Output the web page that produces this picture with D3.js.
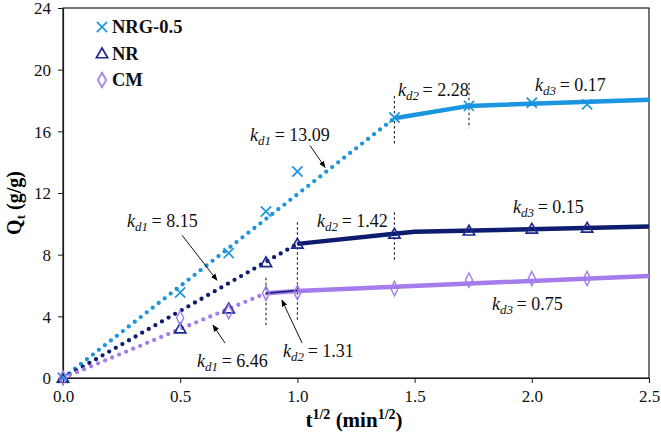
<!DOCTYPE html>
<html>
<head>
<meta charset="utf-8">
<script src="https://cdn.jsdelivr.net/npm/d3@7"></script>
<style>
  body { margin: 0; background: #fff; }
</style>
</head>
<body>
<div id="chart"></div>
<script>
const width = 661;
const height = 439;
const margin = { top: 8, right: 12, bottom: 61, left: 63 };
const serif = "Liberation Serif";

// square root of time (min^1/2)
const tSqrt = [0, 0.5, 0.707, 0.866, 1.0, 1.414, 1.732, 2.0, 2.236];
// measured uptake Qt (g/g)
const nrgValues = [0, 5.55, 8.1, 10.8, 13.4, 16.9, 17.65, 17.85, 17.75];
const nrValues = [0, 3.2, 4.5, 7.5, 8.7, 9.35, 9.55, 9.67, 9.74];
const cmValues = [0, 3.9, 4.3, 5.5, 5.55, 5.8, 6.35, 6.45, 6.45];

// piecewise fits: stage 1 (dotted), later stages (solid)
const nrgFit1 = [[0, 0], [1.414, 16.85]];
const nrgFit2 = [[1.414, 16.85], [1.732, 17.65], [2.5, 18.05]];
const nrFit1 = [[0, 0], [1.0, 8.7]];
const nrFit2 = [[1.0, 8.7], [1.414, 9.35], [1.5, 9.48], [2.5, 9.82]];
const cmFit1 = [[0, 0], [0.866, 5.5]];
const cmFit2 = [[0.866, 5.5], [1.0, 5.65], [2.5, 6.62]];
const cmFitThin = [[0.866, 5.5], [1.0, 5.68]];

// stage boundaries (vertical dashes)
const breakX = [1.414, 1.732, 1.0, 1.414, 0.866];
const breakTop = [18.3, 19.15, 10.1, 10.75, 6.5];
const breakBottom = [15.2, 16.2, 3.7, 7.6, 3.4];

const xTicks = [0, 0.5, 1.0, 1.5, 2.0, 2.5];
const yTicks = [0, 4, 8, 12, 16, 20, 24];

const seriesNames = ["NRG-0.5", "NR", "CM"];
const colors = { nrg: "#1a95df", nr: "#0d1c6e", cm: "#a57ceb" };

// annotation labels: [subscript, value, x, y]
const labels = [
  ["d1", "13.09", 0.798, 15.4],
  ["d2", "2.28", 1.429, 18.32],
  ["d3", "0.17", 2.014, 18.64],
  ["d1", "8.15", 0.273, 9.77],
  ["d2", "1.42", 1.084, 9.77],
  ["d3", "0.15", 1.92, 10.68],
  ["d3", "0.75", 1.83, 4.4],
  ["d1", "6.46", 0.572, 0.71],
  ["d2", "1.31", 0.939, 1.36]
];
// arrows: [x0, y0, x1, y1] (tail -> head)
const arrows = [
  [1.054, 15.08, 1.118, 13.66],
  [0.508, 9.26, 0.657, 6.34],
  [0.691, 2.27, 0.64, 3.43],
  [1.02, 2.27, 0.934, 5.05]
];

const x = d3.scaleLinear().domain([0, 2.5]).range([margin.left, width - margin.right]);
const y = d3.scaleLinear().domain([0, 24]).range([height - margin.bottom, margin.top]);

const svg = d3.select("#chart").append("svg")
    .attr("width", width)
    .attr("height", height)
    .attr("font-family", serif);

svg.append("defs").append("marker")
    .attr("id", "arrow")
    .attr("viewBox", "0 0 10 10")
    .attr("refX", 9).attr("refY", 5)
    .attr("markerWidth", 7).attr("markerHeight", 7)
    .attr("orient", "auto")
  .append("path")
    .attr("d", "M0,1 L10,5 L0,9 Z")
    .attr("fill", "#000");

// frame
svg.append("rect")
    .attr("x", x(0)).attr("y", y(24))
    .attr("width", x(2.5) - x(0)).attr("height", y(0) - y(24))
    .attr("fill", "none").attr("stroke", "#1a1a1a").attr("stroke-width", 1.2);

// axes
const xAxis = svg.append("g")
    .attr("transform", `translate(0,${y(0)})`)
    .call(d3.axisBottom(x).tickValues(xTicks).tickFormat(d3.format(".1f")).tickSize(5).tickSizeOuter(0));
const yAxis = svg.append("g")
    .attr("transform", `translate(${x(0)},0)`)
    .call(d3.axisLeft(y).tickValues(yTicks).tickSize(5).tickSizeOuter(0));
[xAxis, yAxis].forEach(g => {
  g.attr("font-family", serif).attr("font-size", 17);
  g.select(".domain").attr("stroke", "#1a1a1a").attr("stroke-width", 1.2);
  g.selectAll(".tick line").attr("stroke", "#1a1a1a");
  g.selectAll(".tick text").attr("fill", "#111").attr("font-family", serif);
});
xAxis.selectAll(".tick text").attr("dy", "0.95em");
yAxis.selectAll(".tick text").attr("x", -12).attr("dy", "0.34em");

// axis titles
const xTitle = svg.append("text")
    .attr("x", 354).attr("y", 427)
    .attr("text-anchor", "middle")
    .attr("font-family", serif)
    .attr("font-size", 21).attr("font-weight", "bold");
xTitle.append("tspan").text("t");
xTitle.append("tspan").attr("dy", -8).attr("font-size", 14).text("1/2");
xTitle.append("tspan").attr("dy", 8).text(" (min");
xTitle.append("tspan").attr("dy", -8).attr("font-size", 14).text("1/2");
xTitle.append("tspan").attr("dy", 8).text(")");

const yTitle = svg.append("text")
    .attr("transform", `translate(21,203) rotate(-90)`)
    .attr("text-anchor", "middle")
    .attr("font-family", serif)
    .attr("font-size", 20).attr("font-weight", "bold");
yTitle.append("tspan").text("Q");
yTitle.append("tspan").attr("dy", 4).attr("font-size", 13).text("t");
yTitle.append("tspan").attr("dy", -4).text(" (g/g)");

const line = d3.line().x(d => x(d[0])).y(d => y(d[1]));

// stage boundaries
svg.append("g").selectAll("line")
  .data(breakX)
  .join("line")
    .attr("x1", d => x(d)).attr("x2", d => x(d))
    .attr("y1", (d, i) => y(breakTop[i]))
    .attr("y2", (d, i) => y(breakBottom[i]))
    .attr("stroke", "#222").attr("stroke-width", 1.1)
    .attr("stroke-dasharray", "2.5,2.5");

// dotted stage-1 fits
[[nrgFit1, colors.nrg], [nrFit1, colors.nr], [cmFit1, colors.cm]].forEach(([pts, c]) => {
  svg.append("path")
      .attr("d", line(pts))
      .attr("fill", "none").attr("stroke", c)
      .attr("stroke-width", 4.3)
      .attr("stroke-linecap", "round")
      .attr("stroke-dasharray", "0,7.6");
});

// solid later-stage fits
[[nrgFit2, colors.nrg], [nrFit2, colors.nr], [cmFit2, colors.cm]].forEach(([pts, c]) => {
  svg.append("path")
      .attr("d", line(pts))
      .attr("fill", "none").attr("stroke", c)
      .attr("stroke-width", 4.5)
      .attr("stroke-linejoin", "round");
});
svg.append("path")
    .attr("d", line(cmFitThin))
    .attr("fill", "none").attr("stroke", colors.nr)
    .attr("stroke-width", 1.4);

// markers
const cross = d3.symbol().type(d3.symbolX).size(70);
const tri = d3.symbol().type(d3.symbolTriangle).size(55);
const diamond = d3.symbol().type(d3.symbolDiamond).size(60);

svg.append("g").selectAll("path")
  .data(tSqrt)
  .join("path")
    .attr("transform", (d, i) => `translate(${x(d)},${y(nrgValues[i])})`)
    .attr("d", cross)
    .attr("fill", "none").attr("stroke", colors.nrg).attr("stroke-width", 1.7);

svg.append("g").selectAll("path")
  .data(tSqrt)
  .join("path")
    .attr("transform", (d, i) => `translate(${x(d)},${y(nrValues[i]) + 1})`)
    .attr("d", tri)
    .attr("fill", "none").attr("stroke", "#1a2a90").attr("stroke-width", 1.7);

svg.append("g").selectAll("path")
  .data(tSqrt)
  .join("path")
    .attr("transform", (d, i) => `translate(${x(d)},${y(cmValues[i])}) scale(0.85,1)`)
    .attr("d", diamond)
    .attr("fill", "none").attr("stroke", colors.cm).attr("stroke-width", 1.6);

// annotations
labels.forEach(([sub, val, lx, ly]) => {
  const t = svg.append("text")
      .attr("x", x(lx)).attr("y", y(ly))
      .attr("font-family", serif)
      .attr("font-size", 18).attr("fill", "#111");
  t.append("tspan").attr("font-style", "italic").text("k");
  t.append("tspan").attr("font-style", "italic").attr("font-size", 13).attr("dy", 4).text(sub);
  t.append("tspan").attr("dy", -4).text("\u2009= " + val);
});

svg.append("g").selectAll("line")
  .data(arrows)
  .join("line")
    .attr("x1", d => x(d[0])).attr("y1", d => y(d[1]))
    .attr("x2", d => x(d[2])).attr("y2", d => y(d[3]))
    .attr("stroke", "#111").attr("stroke-width", 1)
    .attr("marker-end", "url(#arrow)");

// legend
const legend = svg.append("g");
const legendSymbols = [
  [cross, colors.nrg, 0],
  [tri, "#1a2a90", 1],
  [diamond, colors.cm, 0]
];
seriesNames.forEach((name, i) => {
  const cy = 27 + i * 26.5;
  const [sym, c, dy] = legendSymbols[i];
  legend.append("path")
      .attr("transform", `translate(102,${cy + dy})`)
      .attr("d", sym)
      .attr("fill", "none").attr("stroke", c).attr("stroke-width", 1.7);
  legend.append("text")
      .attr("x", 112).attr("y", cy + 6)
      .attr("font-family", serif)
      .attr("font-size", 18.5).attr("font-weight", "bold")
      .attr("fill", "#111")
      .text(name);
});
</script>
</body>
</html>
